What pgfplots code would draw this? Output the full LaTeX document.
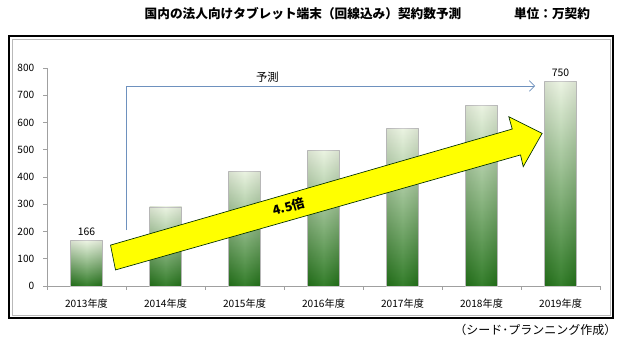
\documentclass[border=0pt]{standalone}
\usepackage{pgfplots}
\pgfplotsset{compat=1.18}
\usepackage{fontspec}
\setmainfont{Noto Sans CJK JP}
\usetikzlibrary{arrows.meta}
\definecolor{axgray}{RGB}{160,160,160}
\definecolor{bartop}{RGB}{234,243,224}
\definecolor{barmid}{RGB}{165,200,135}
\definecolor{barbot}{RGB}{35,115,25}
\definecolor{fcblue}{RGB}{110,145,190}
\definecolor{arrowyel}{RGB}{255,255,0}
\pgfplotsset{
  greenbar/.style={ybar, bar width=24pt, bar shift=0pt, draw=gray!45, line width=0.4pt,
    top color=bartop, middle color=barmid, bottom color=barbot},
  sidebar/.style={ybar, bar width=24pt, bar shift=0pt, draw=none,
    left color=black, right color=black, middle color=white, fill opacity=0.08},
}
\begin{document}
\begin{tikzpicture}
\begin{scope}[x=0.75pt,y=0.75pt]
\useasboundingbox (0,0) rectangle (624,352);
\fill[white] (0,0) rectangle (624,352);
\draw[black,line width=0.9pt] (9,34) rectangle (613,316);
\draw[gray!55,line width=0.6pt] (12,37) rectangle (610,313);
\node[font=\fontsize{9.5}{11}\selectfont\bfseries] at (303,338) {国内の法人向けタブレット端末（回線込み）契約数予測};
\node[font=\fontsize{9.5}{11}\selectfont\bfseries] at (552,338) {単位：万契約};
\node[font=\fontsize{9}{11}\selectfont,anchor=east] at (621,22) {（シード･プランニング作成）};
\end{scope}
\begin{axis}[
  at={(35.25pt,49.5pt)}, anchor=south west,
  scale only axis, width=414.75pt, height=163.5pt,
  xmin=-0.5, xmax=6.5, ymin=0, ymax=800,
  axis x line*=bottom, axis y line*=left,
  axis line style={axgray, line width=0.6pt},
  xtick={0,...,6},
  xticklabels={2013年度,2014年度,2015年度,2016年度,2017年度,2018年度,2019年度},
  minor xtick={-0.5,0.5,...,6.5},
  major x tick style={draw=none},
  minor x tick style={axgray, line width=0.6pt},
  ytick={0,100,...,800},
  y tick style={axgray, line width=0.6pt},
  tick align=outside,
  major tick length=3pt, minor tick length=3pt,
  /pgf/number format/assume math mode=true,
  tick label style={font=\fontsize{7.6}{9}\selectfont, black},
  xticklabel style={yshift=-3pt},
  yticklabel style={xshift=-3pt},
  clip=false,
]
\addplot[greenbar] coordinates {(0,166)};
\addplot[greenbar] coordinates {(1,290)};
\addplot[greenbar] coordinates {(2,422)};
\addplot[greenbar] coordinates {(3,497)};
\addplot[greenbar] coordinates {(4,579)};
\addplot[greenbar] coordinates {(5,664)};
\addplot[greenbar] coordinates {(6,750)};
\addplot[sidebar] coordinates {(0,166)};
\addplot[sidebar] coordinates {(1,290)};
\addplot[sidebar] coordinates {(2,422)};
\addplot[sidebar] coordinates {(3,497)};
\addplot[sidebar] coordinates {(4,579)};
\addplot[sidebar] coordinates {(5,664)};
\addplot[sidebar] coordinates {(6,750)};
\node[font=\fontsize{7.8}{9}\selectfont, above] at (axis cs:0,166) {166};
\node[font=\fontsize{7.8}{9}\selectfont, above] at (axis cs:6,750) {750};
% forecast bracket
\draw[fcblue, line width=0.6pt, -{Straight Barb[length=4pt,width=8pt]}]
  (axis cs:0.503,205) -- (axis cs:0.503,734) -- (axis cs:5.68,734);
\node[font=\fontsize{8.5}{10}\selectfont] at (axis cs:2.29,767) {予測};
% big yellow arrow
\filldraw[fill=arrowyel, draw=black!70!green!60!black, line width=0.5pt]
  (axis cs:0.304,150) -- (axis cs:5.389,576) -- (axis cs:5.346,621) --
  (axis cs:5.767,560) -- (axis cs:5.528,438) -- (axis cs:5.494,481) --
  (axis cs:0.367,59) -- cycle;
\node[font=\fontsize{9.5}{11}\selectfont\bfseries, rotate=16.1] at (axis cs:2.56,291) {4.5倍};
\end{axis}
\end{tikzpicture}
\end{document}
